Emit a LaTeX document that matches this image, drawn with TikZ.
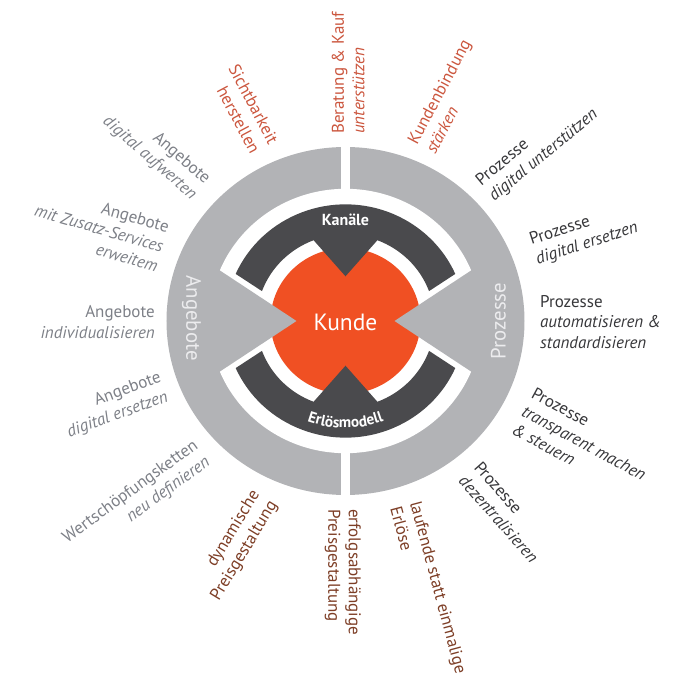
\documentclass[tikz,border=0pt]{standalone}
\usepackage{fontspec}
\setmainfont{PT Sans}
\usepackage{xcolor}
\usetikzlibrary{decorations.text}

\definecolor{ringgray}{RGB}{178,179,182}
\definecolor{darkring}{RGB}{74,74,77}
\definecolor{kundeorange}{RGB}{240,80,35}
\definecolor{ringtext}{RGB}{236,236,238}
\definecolor{kanalred}{RGB}{203,86,62}
\definecolor{erloesbrown}{RGB}{125,62,38}
\definecolor{angebotgray}{RGB}{125,128,135}
\definecolor{prozessdark}{RGB}{55,55,58}

\newcommand{\ringfont}{\bfseries\fontsize{15.3}{17}\selectfont}

\begin{document}
\begin{tikzpicture}[x=1pt, y=1pt,
    lbl/.style={inner sep=0pt, font=\fontsize{17}{20.5}\selectfont},
    lblout/.style={lbl, anchor=west, align=left},
    lblin/.style={lbl, anchor=east, align=right},
    kanaltxt/.style={text=kanalred},
    erloestxt/.style={text=erloesbrown},
    angebottxt/.style={text=angebotgray},
    prozesstxt/.style={text=prozessdark},
    ringlbl/.style={inner sep=0pt, text=ringtext, font=\fontsize{20.8}{24}\selectfont},
    ringbold/.style={inner sep=0pt, text=white, font=\ringfont}]
  \useasboundingbox (-345.5,-358) rectangle (339.5,321);
  \begin{scope}[yscale=0.972]
    \fill[ringgray] (0,0) circle [radius=179];
    \fill[white] (0,0) circle [radius=136];
    \fill[white] (-4.5,-185) rectangle (4.5,185);
    \fill[kundeorange] (0,0) circle [radius=75];
    \fill[ringgray] (-49,0) -- (-133.3,57.2) -- (-150,0) -- (-133.3,-57.2) -- cycle;
    \fill[ringgray] (49,0) -- (133.3,57.2) -- (150,0) -- (133.3,-57.2) -- cycle;
    \fill[darkring] (156.2:120) arc[start angle=156.2, end angle=23.8, radius=120]
      -- (20.2:89) arc[start angle=20.2, end angle=69, radius=89] -- (0,46)
      -- (111:89) arc[start angle=111, end angle=159.8, radius=89] -- cycle;
    \fill[darkring] (-156.2:120) arc[start angle=-156.2, end angle=-23.8, radius=120]
      -- (-20.2:89) arc[start angle=-20.2, end angle=-69, radius=89] -- (0,-46)
      -- (-111:89) arc[start angle=-111, end angle=-159.8, radius=89] -- cycle;
    \node[ringbold, font=\fontsize{16}{18}\selectfont\bfseries] (kanaele) at (0,104.5) {Kanäle};
    \path[decorate, decoration={text along path, text align=center, text color=white,
      text={|\ringfont|Erlösmodell}}] (-155:110) arc[start angle=-155, end angle=-25, radius=110];
    \node[ringlbl, rotate=-90] (angebote) at (-154,3) {Angebote};
    \node[ringlbl, rotate=90] (prozesse) at (153,0) {Prozesse};
    \node[inner sep=0pt, text=white, font=\fontsize{23.5}{26}\selectfont] (kunde) at (0,-1) {Kunde};
  \end{scope}

  \node[lblin, kanaltxt, rotate=-62] (sichtbarkeit) at (114.9:191.3) {Sichtbarkeit\\herstellen};
  \node[lblout, kanaltxt, rotate=90] (beratung) at (89.2:187) {Beratung \& Kauf\\\textit{unterstützen}};
  \node[lblout, kanaltxt, rotate=62] (kundenbindung) at (66.5:189.1) {Kundenbindung\\\textit{stärken}};

  \node[lblout, prozesstxt, rotate=39.5] (digunterst) at (43:190.8) {Prozesse\\\textit{digital unterstützen}};
  \node[lblout, prozesstxt, rotate=18] (digersetzen) at (20.5:200.5) {Prozesse\\\textit{digital ersetzen}};
  \node[lblout, prozesstxt] (automat) at (-0.3:194.5) {Prozesse\\\textit{automatisieren \&}\\\textit{standardisieren}};
  \node[lblout, prozesstxt, rotate=-28.5] (transparent) at (-26.6:198.8) {Prozesse\\\textit{transparent machen}\\\textit{\& steuern}};
  \node[lblout, prozesstxt, rotate=-48.5] (dezentral) at (-50.3:194.8) {Prozesse\\\textit{dezentralisieren}};

  \node[lblout, erloestxt, rotate=-75] (laufend) at (-71.8:192.7) {laufende statt einmalige\\Erlöse};
  \node[lblout, erloestxt, rotate=-90] (erfolg) at (-90.8:188) {erfolgsabhängige\\Preisgestaltung};
  \node[lblin, erloestxt, rotate=58.7] (dynamisch) at (-114.5:194) {dynamische\\Preisgestaltung};

  \node[lblin, angebottxt, rotate=36] (wertschoepfung) at (222.6:194.3) {Wertschöpfungsketten\\\textit{neu definieren}};
  \node[lblin, angebottxt, rotate=20] (angersetzen) at (200.1:193.1) {Angebote\\\textit{digital ersetzen}};
  \node[lblin, angebottxt] (individual) at (180.3:190.5) {Angebote\\\textit{individualisieren}};
  \node[lblin, angebottxt, rotate=-16] (zusatz) at (157.8:196.8) {Angebote\\\textit{mit Zusatz-Services}\\\textit{erweitem}};
  \node[lblin, angebottxt, rotate=-41] (aufwerten) at (137.7:195.7) {Angebote\\\textit{digital aufwerten}};
\end{tikzpicture}
\end{document}
